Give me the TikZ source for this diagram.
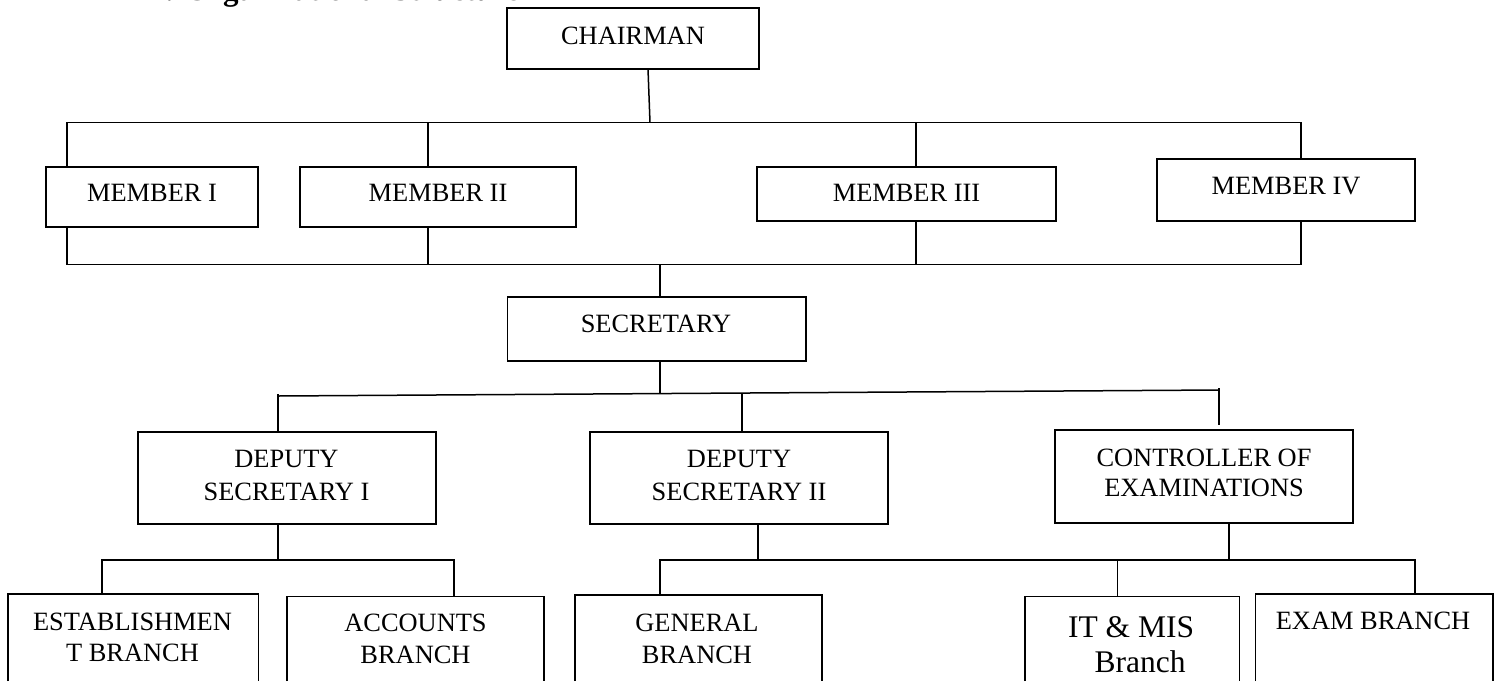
\documentclass[tikz,border=0pt]{standalone}
\usepackage{fontspec}
\setmainfont{Liberation Serif}
\usetikzlibrary{fit}
\begin{document}
\begin{tikzpicture}[x=1pt,y=-1pt,
  box/.style={draw, line width=1.8pt, inner sep=0pt},
  obox/.style={inner sep=0pt},
  txt/.style={anchor=base, inner sep=0pt, font=\fontsize{26.4}{32}\selectfont},
  bigtxt/.style={anchor=base, inner sep=0pt, font=\fontsize{31.5}{36}\selectfont},
  ttl/.style={anchor=base west, inner sep=0pt, font=\bfseries\fontsize{31}{36}\selectfont},
  conn/.style={line width=1.5pt},
  side/.style={line width=1.8pt}
]
\useasboundingbox (0,0) rectangle (1501,681);

% title, cut off at the top edge as in the reference
\begin{scope}
\clip (0,0) rectangle (1501,681);
\node[ttl] (tnum) at (150,0.2) {1.};
\node[ttl] (title) at (185,0.2) {Organizational Structure};
\end{scope}

% boxes
\node[box, fit={(507,8)(759,69)}] (chair) {};
\node[box, fit={(46,166.7)(258,227)}] (m1) {};
\node[box, fit={(300,166.7)(576,227)}] (m2) {};
\node[box, fit={(757,166.7)(1056,221)}] (m3) {};
\node[box, fit={(1157,158.7)(1415,221)}] (m4) {};
\node[box, fit={(507.5,296.7)(806,360.7)}] (sec) {};
\node[box, fit={(137.8,432.3)(436.2,524.3)}] (ds1) {};
\node[box, fit={(589.8,432.3)(888.2,524.3)}] (ds2) {};
\node[box, fit={(1055.2,430.3)(1353.2,522.7)}] (coe) {};
\node[obox, fit={(8.1,594.3)(258.3,681)}] (est) {};
\node[obox, fit={(287.5,596.7)(543.8,681)}] (acc) {};
\node[obox, fit={(575.4,595)(821.7,681)}] (gen) {};
\node[obox, fit={(1025.5,596.7)(1239.3,681)}] (it) {};
\node[obox, fit={(1255.6,594.3)(1492.8,681)}] (exam) {};
\foreach \b in {est,acc,gen,it,exam}
  \draw[side] (\b.south west) -- (\b.north west) -- (\b.north east) -- (\b.south east);

% texts
\node[txt] (chairt) at (633,44.3) {CHAIRMAN};
\node[txt] (m1t) at (152,201.7) {MEMBER I};
\node[txt] (m2t) at (438,201.7) {MEMBER II};
\node[txt] (m3t) at (906.5,201.7) {MEMBER III};
\node[txt] (m4t) at (1286,194) {MEMBER IV};
\node[txt] (sect) at (656,332.3) {SECRETARY};
\node[txt] (ds1a) at (286.5,467.3) {DEPUTY};
\node[txt] (ds1b) at (286.5,500) {SECRETARY I};
\node[txt] (ds2a) at (739,467.3) {DEPUTY};
\node[txt] (ds2b) at (739,500) {SECRETARY II};
\node[txt] (coea) at (1204,466) {CONTROLLER OF};
\node[txt] (coeb) at (1204,496.7) {EXAMINATIONS};
\node[txt] (esta) at (132.5,630) {ESTABLISHMEN};
\node[txt] (estb) at (132.5,661) {T BRANCH};
\node[txt] (acca) at (415.5,631.7) {ACCOUNTS};
\node[txt] (accb) at (415.5,663.3) {BRANCH};
\node[txt] (gena) at (697,631.5) {GENERAL};
\node[txt] (genb) at (697,663) {BRANCH};
\node[bigtxt] (ita) at (1131,637.3) {IT \& MIS};
\node[bigtxt] (itb) at (1140,672.7) {Branch};
\node[txt] (examt) at (1373,629) {EXAM BRANCH};

% connector coordinates
\coordinate (ch0) at (648,69);
\coordinate (ch1) at (650,122.7);
\coordinate (btl) at (67,122.7);
\coordinate (btr) at (1301,122.7);
\coordinate (c2) at (428,122.7);
\coordinate (c3) at (916,122.7);
\coordinate (bbl) at (67,264.3);
\coordinate (bbr) at (1301,264.3);
\coordinate (d2) at (428,264.3);
\coordinate (d3) at (916,264.3);
\coordinate (s0) at (660,264.3);
\coordinate (s1) at (660,393.6);
\coordinate (l1) at (278,396);
\coordinate (l1t) at (278,394);
\coordinate (r1) at (1219,390);
\coordinate (r1t) at (1219,388);
\coordinate (r1b) at (1219,425);
\coordinate (mid) at (742,393);
\coordinate (q1) at (278,560);
\coordinate (q1l) at (102,560);
\coordinate (q1r) at (454,560);
\coordinate (q2) at (758,560);
\coordinate (q2l) at (660,560);
\coordinate (q2r) at (1415,560);
\coordinate (q3) at (1228.8,560);
\coordinate (q4) at (1117.3,560);

% connectors
\draw[conn] (ch0) -- (ch1);
\draw[conn] (m1.north -| btl) -- (btl) -- (btr) -- (m4.north -| btr);
\draw[conn] (c2) -- (m2.north -| c2);
\draw[conn] (c3) -- (m3.north -| c3);
\draw[conn] (m1.south -| bbl) -- (bbl) -- (bbr) -- (m4.south -| bbr);
\draw[conn] (m2.south -| d2) -- (d2);
\draw[conn] (m3.south -| d3) -- (d3);
\draw[conn] (s0) -- (sec.north -| s0);
\draw[conn] (sec.south -| s1) -- (s1);
\draw[conn] (ds1.north -| l1) -- (l1t);
\draw[conn] (l1) -- (r1);
\draw[conn] (r1t) -- (r1b);
\draw[conn] (mid) -- (ds2.north -| mid);
\draw[conn] (ds1.south -| q1) -- (q1);
\draw[conn] (est.north -| q1l) -- (q1l) -- (q1r) -- (acc.north -| q1r);
\draw[conn] (ds2.south -| q2) -- (q2);
\draw[conn] (gen.north -| q2l) -- (q2l) -- (q2r) -- (exam.north -| q2r);
\draw[conn] (coe.south -| q3) -- (q3);
\draw[conn] (q4) -- (it.north -| q4);
\end{tikzpicture}
\end{document}
